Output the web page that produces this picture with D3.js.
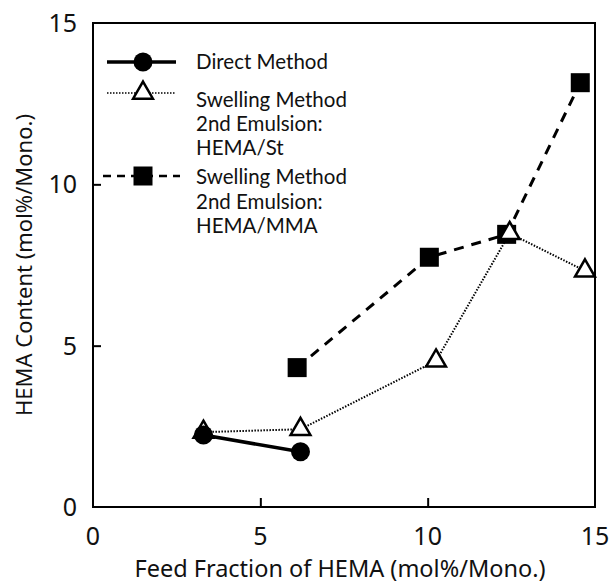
<!DOCTYPE html>
<html><head><meta charset="utf-8">
<script src="https://cdn.jsdelivr.net/npm/d3@7/dist/d3.min.js"></script>
<style>body{margin:0;background:#fff}text{font-family:"Noto Sans",sans-serif;fill:#111}</style>
</head><body><svg id="c" width="613" height="586"></svg>
<script>
const xTicks = [0, 5, 10, 15];
const yTicks = [0, 5, 10, 15];
const directX = [3.3, 6.2];
const directY = [2.23, 1.71];
const stX = [3.3, 6.2, 10.25, 12.45, 14.7];
const stY = [2.32, 2.41, 4.53, 8.48, 7.32];
const mmaX = [6.1, 10.05, 12.36, 14.56];
const mmaY = [4.32, 7.74, 8.45, 13.15];
const legendLabels = [["Direct Method"], ["Swelling Method", "2nd Emulsion:", "HEMA/St"], ["Swelling Method", "2nd Emulsion:", "HEMA/MMA"]];
const xTitle = "Feed Fraction of HEMA (mol%/Mono.)";
const yTitle = "HEMA Content (mol%/Mono.)";

const svg = d3.select("#c");
const L = 93, R = 595, T = 23, B = 507;
const x = d3.scaleLinear().domain([0, 15]).range([L, R]);
const y = d3.scaleLinear().domain([0, 15]).range([B, T]);

// frame
svg.append("rect").attr("x", L).attr("y", T).attr("width", R - L).attr("height", B - T)
  .attr("fill", "none").attr("stroke", "#000").attr("stroke-width", 2);

// ticks inward
svg.append("g").attr("transform", `translate(0,${B})`)
  .call(d3.axisBottom(x).tickValues(xTicks.slice(1, -1)).tickSize(-9).tickFormat(""))
  .call(g => { g.select(".domain").remove(); g.selectAll("line").attr("stroke-width", 2); });
svg.append("g").attr("transform", `translate(${L},0)`)
  .call(d3.axisLeft(y).tickValues(yTicks.slice(1, -1)).tickSize(-8).tickFormat(""))
  .call(g => { g.select(".domain").remove(); g.selectAll("line").attr("stroke-width", 2); });

// tick labels
svg.append("g").selectAll("text").data(xTicks).join("text")
  .attr("x", d => x(d)).attr("y", 545).attr("text-anchor", "middle")
  .attr("font-size", 25).text(d => d);
svg.append("g").selectAll("text").data(yTicks).join("text")
  .attr("x", 77).attr("y", d => y(d) + 9).attr("text-anchor", "end")
  .attr("font-size", 25).text(d => d);

svg.append("text").attr("x", (L + R) / 2 - 4).attr("y", 577).attr("text-anchor", "middle")
  .attr("font-size", 23.5).text(xTitle);
svg.append("text").attr("transform", `translate(32,${(T + B) / 2}) rotate(-90)`)
  .attr("text-anchor", "middle").attr("font-size", 22).text(yTitle);

const line = d3.line().x(d => x(d[0])).y(d => y(d[1]));
const mma = d3.zip(mmaX, mmaY), st = d3.zip(stX, stY), dir = d3.zip(directX, directY);

const tri = d3.symbol().type(d3.symbolTriangle).size(170);

// MMA dashed
svg.append("path").attr("d", line(mma)).attr("fill", "none").attr("stroke", "#000")
  .attr("stroke-width", 3).attr("stroke-dasharray", "10,8");
svg.append("g").selectAll("rect").data(mma).join("rect")
  .attr("x", d => x(d[0]) - 9.5).attr("y", d => y(d[1]) - 9.5).attr("width", 19).attr("height", 19).attr("fill", "#000");

// St dotted
svg.append("path").attr("d", line(st)).attr("fill", "none").attr("stroke", "#000")
  .attr("stroke-width", 2).attr("stroke-dasharray", "1.5,1.5");
svg.append("g").selectAll("path").data(st).join("path")
  .attr("d", tri).attr("transform", d => `translate(${x(d[0])},${y(d[1])})`)
  .attr("fill", "#fff").attr("stroke", "#000").attr("stroke-width", 2.5);

// Direct solid
svg.append("path").attr("d", line(dir)).attr("fill", "none").attr("stroke", "#000").attr("stroke-width", 3.5);
svg.append("g").selectAll("circle").data(dir).join("circle")
  .attr("cx", d => x(d[0])).attr("cy", d => y(d[1])).attr("r", 9.5).attr("fill", "#000");

// legend
const lg = svg.append("g");
const lx1 = 107, lx2 = 176, lm = 143;
lg.append("line").attr("x1", lx1).attr("x2", lx2).attr("y1", 62).attr("y2", 62).attr("stroke", "#000").attr("stroke-width", 3.5);
lg.append("circle").attr("cx", lm).attr("cy", 62).attr("r", 9.5).attr("fill", "#000");
lg.append("line").attr("x1", lx1).attr("x2", lx2).attr("y1", 93).attr("y2", 93).attr("stroke", "#000").attr("stroke-width", 1.5).attr("stroke-dasharray", "1.5,1.5");
lg.append("path").attr("d", tri).attr("transform", `translate(${lm},93)`).attr("fill", "#fff").attr("stroke", "#000").attr("stroke-width", 2.5);
lg.append("line").attr("x1", lx1 - 4).attr("x2", lx2 + 4).attr("y1", 176).attr("y2", 176).attr("stroke", "#000").attr("stroke-width", 2.5).attr("stroke-dasharray", "8,6");
lg.append("rect").attr("x", lm - 9.5).attr("y", 176 - 9.5).attr("width", 19).attr("height", 19).attr("fill", "#000");

const lineYs = [[69], [107, 131, 155], [184, 209, 233]];
legendLabels.forEach((lines, i) => {
  lines.forEach((t, j) => {
    lg.append("text").attr("x", 196).attr("y", lineYs[i][j])
      .style("font-family", "Lato, sans-serif").attr("font-size", 20.5).text(t);
  });
});
</script></body></html>
